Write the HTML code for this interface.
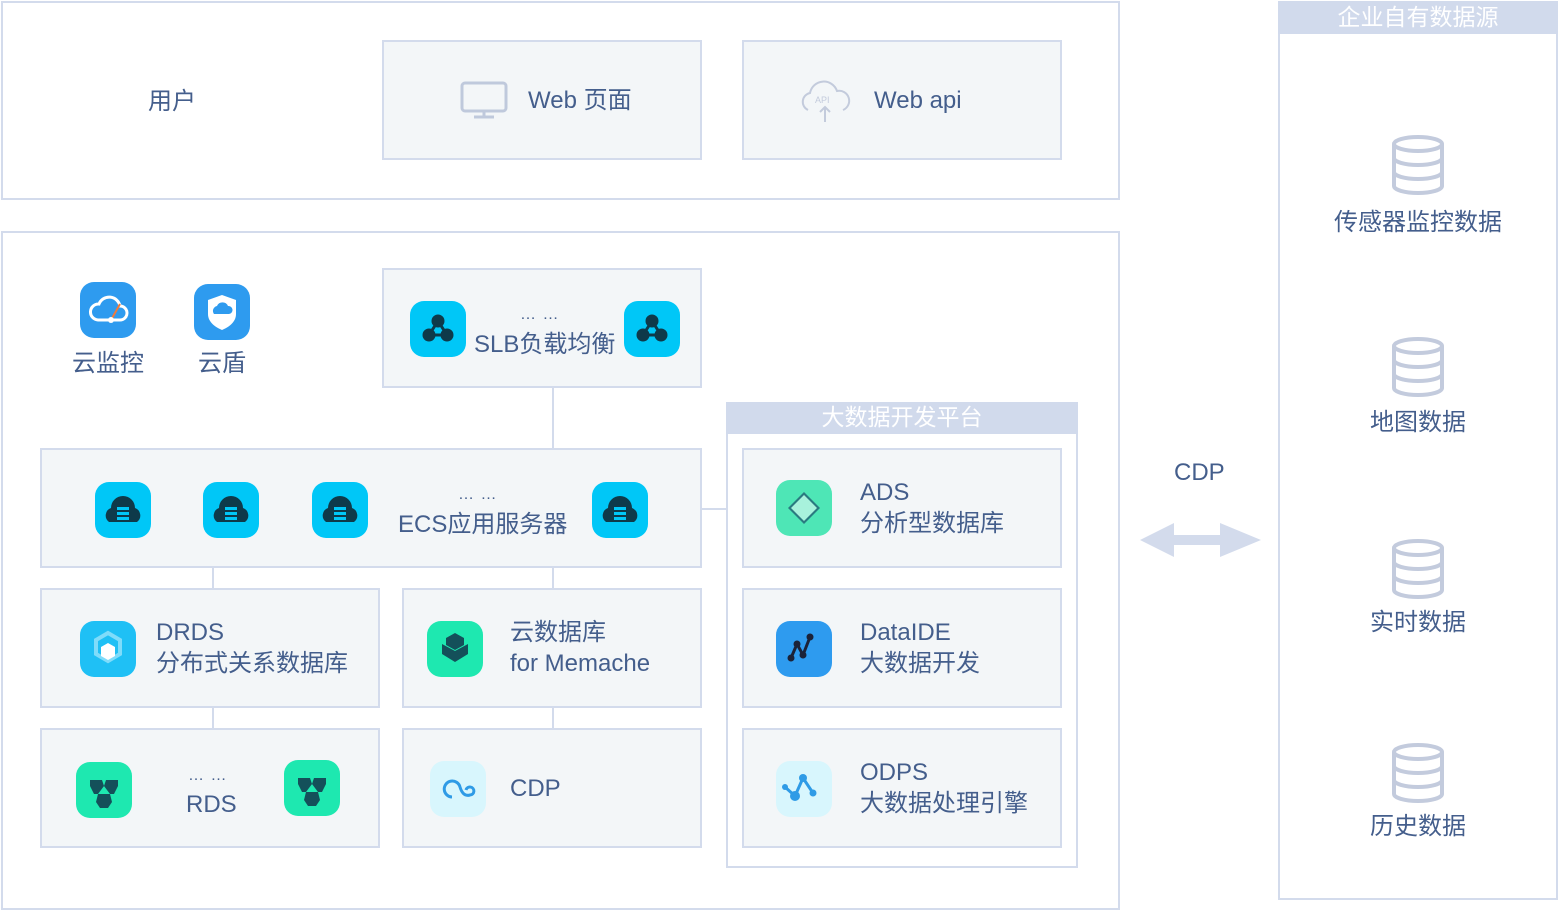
<!DOCTYPE html>
<html><head><meta charset="utf-8"><style>
*{margin:0;padding:0;box-sizing:border-box}
body{width:1558px;height:910px;background:#fff;position:relative;overflow:hidden;font-family:"Liberation Sans","Noto Sans CJK SC",sans-serif;color:#445e8c}
.b{position:absolute;border:2px solid #d3dbec}
.f{background:#f3f6f8}
.t{position:absolute;font-size:24px;line-height:31px;white-space:nowrap}
.l{position:absolute;background:#d3dbec}
.ic{position:absolute;width:56px;height:56px;border-radius:14px}
.hd{position:absolute;background:#d1daec;color:#fff;font-size:23px;text-align:center;line-height:30px}
.dots{position:absolute;font-size:16px;letter-spacing:1px}
</style></head><body>
<div class="b" style="left:1px;top:1px;width:1119px;height:199px"></div>
<div class="t" style="left:148px;top:86px">用户</div>
<div class="b f" style="left:382px;top:40px;width:320px;height:120px"></div>
<svg style="position:absolute;left:460px;top:81px" width="48" height="38"><rect x="2" y="2" width="44" height="28" rx="3" fill="none" stroke="#bfc9dc" stroke-width="3"/><line x1="24" y1="30" x2="24" y2="36" stroke="#bfc9dc" stroke-width="3"/><line x1="14" y1="36" x2="34" y2="36" stroke="#bfc9dc" stroke-width="3"/></svg>
<div class="t" style="left:528px;top:85px">Web 页面</div>
<div class="b f" style="left:742px;top:40px;width:320px;height:120px"></div>
<svg style="position:absolute;left:796px;top:78px" width="58" height="46"><path d="M12 32 a9 9 0 0 1 2-17 a14 14 0 0 1 27-2 a10 10 0 0 1 6 19" fill="none" stroke="#c3cbdc" stroke-width="2"/><text x="19" y="25" font-size="9" fill="#c3cbdc" font-family="Liberation Sans">API</text><path d="M29 44 V29 M24 34 l5-5 5 5" fill="none" stroke="#c3cbdc" stroke-width="2"/></svg>
<div class="t" style="left:874px;top:85px">Web api</div>

<div class="b" style="left:1px;top:231px;width:1119px;height:679px"></div>
<div class="ic" style="left:80px;top:282px;background:#2e9bef"></div>
<svg style="position:absolute;left:80px;top:282px" width="56" height="56"><path d="M18 38 a8 8 0 0 1 1-16 a11 11 0 0 1 21 2 a7 7 0 0 1 0 14 z" fill="none" stroke="#fff" stroke-width="3"/><line x1="31" y1="38" x2="40" y2="22" stroke="#f07a3a" stroke-width="2"/><circle cx="31" cy="38" r="3" fill="#fff"/></svg>
<div class="t" style="left:72px;top:348px">云监控</div>
<div class="ic" style="left:194px;top:284px;background:#2e9bef"></div>
<svg style="position:absolute;left:194px;top:284px" width="56" height="56"><path d="M14 16 L28 11 L42 16 V30 C42 38 35 43 28 46 C21 43 14 38 14 30 Z" fill="#fff"/><path d="M20 30 a5 5 0 0 1 3-8 a6 6 0 0 1 11 0 a4 4 0 0 1 1 8 z" fill="#2e9bef"/></svg>
<div class="t" style="left:198px;top:348px">云盾</div>

<div class="b f" style="left:382px;top:268px;width:320px;height:120px"></div>
<div class="ic" style="left:410px;top:301px;background:#00c7f7"></div>
<div class="ic" style="left:624px;top:301px;background:#00c7f7"></div>
<svg style="position:absolute;left:410px;top:301px" width="56" height="56"><g fill="#0e3a4a" stroke="#0e3a4a" stroke-width="3"><circle cx="28" cy="20" r="5"/><circle cx="19" cy="34" r="5"/><circle cx="37" cy="34" r="5"/><path d="M28 20 L19 34 H37 Z" fill="none"/></g></svg>
<svg style="position:absolute;left:624px;top:301px" width="56" height="56"><g fill="#0e3a4a" stroke="#0e3a4a" stroke-width="3"><circle cx="28" cy="20" r="5"/><circle cx="19" cy="34" r="5"/><circle cx="37" cy="34" r="5"/><path d="M28 20 L19 34 H37 Z" fill="none"/></g></svg>
<div class="dots" style="left:520px;top:306px">… …</div>
<div class="t" style="left:474px;top:329px">SLB负载均衡</div>

<div class="l" style="left:552px;top:388px;width:2px;height:61px"></div>

<div class="b f" style="left:40px;top:448px;width:662px;height:120px"></div>
<div class="l" style="left:702px;top:508px;width:25px;height:2px"></div>
<svg width="0" height="0" style="position:absolute"><defs><g id="ecs"><rect width="56" height="56" rx="14" fill="#00c7f7"/><path d="M14 40 a8 8 0 0 1 2-14 a12 12 0 0 1 24 0 a8 8 0 0 1 2 14 z" fill="#0e3a4a"/><g fill="#00c7f7"><rect x="22" y="25" width="12" height="3"/><rect x="22" y="30" width="12" height="3"/><rect x="22" y="35" width="12" height="3"/></g></g></defs></svg>
<svg style="position:absolute;left:95px;top:482px" width="56" height="56"><use href="#ecs"/></svg>
<svg style="position:absolute;left:203px;top:482px" width="56" height="56"><use href="#ecs"/></svg>
<svg style="position:absolute;left:312px;top:482px" width="56" height="56"><use href="#ecs"/></svg>
<svg style="position:absolute;left:592px;top:482px" width="56" height="56"><use href="#ecs"/></svg>
<div class="dots" style="left:458px;top:486px">… …</div>
<div class="t" style="left:398px;top:509px">ECS应用服务器</div>

<div class="l" style="left:212px;top:568px;width:2px;height:21px"></div>
<div class="l" style="left:552px;top:568px;width:2px;height:21px"></div>

<div class="b f" style="left:40px;top:588px;width:340px;height:120px"></div>
<div class="ic" style="left:80px;top:621px;background:#1fc0f5"></div>
<svg style="position:absolute;left:80px;top:621px" width="56" height="56"><path d="M28 12 l12 7 v14 l-12 7 l-12-7 v-14 z" fill="none" stroke="#7fdcfa" stroke-width="4"/><path d="M28 22 l7 4 v9 l-7 4 l-7-4 v-9 z" fill="#fff"/></svg>
<div class="t" style="left:156px;top:617px">DRDS</div>
<div class="t" style="left:156px;top:648px">分布式关系数据库</div>

<div class="b f" style="left:402px;top:588px;width:300px;height:120px"></div>
<div class="ic" style="left:427px;top:621px;background:#1ee8b0"></div>
<svg style="position:absolute;left:427px;top:621px" width="56" height="56"><path d="M28 12 l9 5 v7 l-9 5 l-9-5 v-7 z" fill="#14505a"/><path d="M28 30 l-13-7 v10 l13 8 l13-8 v-10 z" fill="#14505a"/></svg>
<div class="t" style="left:510px;top:617px">云数据库</div>
<div class="t" style="left:510px;top:648px">for Memache</div>

<div class="l" style="left:212px;top:708px;width:2px;height:21px"></div>
<div class="l" style="left:552px;top:708px;width:2px;height:21px"></div>

<div class="b f" style="left:40px;top:728px;width:340px;height:120px"></div>
<svg width="0" height="0" style="position:absolute"><defs><g id="rds"><rect width="56" height="56" rx="14" fill="#1ee8b0"/><g fill="#14505a"><path d="M14 18 h12 l2 6 l-6 8 h-4 l-4-8z"/><path d="M30 18 h12 v6 l-4 8 h-4 l-6-8z"/><path d="M22 32 h12 l2 8 l-4 6 h-8 l-4-6z"/></g></g></defs></svg>
<svg style="position:absolute;left:76px;top:762px" width="56" height="56"><use href="#rds"/></svg>
<svg style="position:absolute;left:284px;top:760px" width="56" height="56"><use href="#rds"/></svg>
<div class="dots" style="left:188px;top:767px">… …</div>
<div class="t" style="left:186px;top:789px">RDS</div>

<div class="b f" style="left:402px;top:728px;width:300px;height:120px"></div>
<div class="ic" style="left:430px;top:761px;background:#d8f6fd"></div>
<svg style="position:absolute;left:430px;top:761px" width="56" height="56"><path d="M22 36 a8 8 0 1 1 8-10 q3 10 10 8 a4 4 0 1 0 -4-5" fill="none" stroke="#2f9be6" stroke-width="3"/></svg>
<div class="t" style="left:510px;top:773px">CDP</div>

<div class="b" style="left:726px;top:402px;width:352px;height:466px"></div>
<div class="hd" style="left:726px;top:402px;width:352px;height:32px">大数据开发平台</div>
<div class="b f" style="left:742px;top:448px;width:320px;height:120px"></div>
<div class="ic" style="left:776px;top:480px;background:#4ee6b6"></div>
<svg style="position:absolute;left:776px;top:480px" width="56" height="56"><path d="M28 12 l16 16 l-16 16 l-16-16 z" fill="#2a7a80"/><path d="M28 15 l13 13 l-13 13 l-13-13 z" fill="#a8f2dc"/></svg>
<div class="t" style="left:860px;top:477px">ADS</div>
<div class="t" style="left:860px;top:508px">分析型数据库</div>
<div class="b f" style="left:742px;top:588px;width:320px;height:120px"></div>
<div class="ic" style="left:776px;top:621px;background:#2e9bef"></div>
<svg style="position:absolute;left:776px;top:621px" width="56" height="56"><path d="M15 37 L21 23 L27 34 L34 16" fill="none" stroke="#1b2238" stroke-width="3"/><g fill="#1b2238"><circle cx="15" cy="37" r="3.5"/><circle cx="21" cy="23" r="3.5"/><circle cx="27" cy="34" r="3.5"/><circle cx="34" cy="16" r="3.5"/></g></svg>
<div class="t" style="left:860px;top:617px">DataIDE</div>
<div class="t" style="left:860px;top:648px">大数据开发</div>
<div class="b f" style="left:742px;top:728px;width:320px;height:120px"></div>
<div class="ic" style="left:776px;top:761px;background:#d8f6fd"></div>
<svg style="position:absolute;left:776px;top:761px" width="56" height="56"><path d="M9 26 L19 35 L27 17 L37 32" fill="none" stroke="#2f9be6" stroke-width="3"/><g fill="#2f9be6"><circle cx="9" cy="26" r="3"/><circle cx="19" cy="35" r="5"/><circle cx="27" cy="17" r="4"/><circle cx="37" cy="32" r="3.5"/></g></svg>
<div class="t" style="left:860px;top:757px">ODPS</div>
<div class="t" style="left:860px;top:788px">大数据处理引擎</div>

<div class="t" style="left:1174px;top:457px">CDP</div>
<svg style="position:absolute;left:1139px;top:520px" width="124" height="40"><path d="M1 20 L35 3 V15 H81 V3 L122 20 L81 37 V25 H35 V37 Z" fill="#d3dbec"/></svg>

<div class="b" style="left:1278px;top:1px;width:280px;height:899px"></div>
<div class="hd" style="left:1278px;top:1px;width:280px;height:33px;line-height:32px">企业自有数据源</div>
<svg width="0" height="0" style="position:absolute"><defs><g id="db" fill="none" stroke="#c3cbdd" stroke-width="4"><ellipse cx="28" cy="10" rx="24" ry="7"/><path d="M4 10 V52 a24 7 0 0 0 48 0 V10"/><path d="M4 24 a24 7 0 0 0 48 0 M4 38 a24 7 0 0 0 48 0"/></g></defs></svg>
<svg style="position:absolute;left:1390px;top:134px" width="56" height="64"><use href="#db"/></svg>
<div class="t" style="left:1334px;top:207px">传感器监控数据</div>
<svg style="position:absolute;left:1390px;top:336px" width="56" height="64"><use href="#db"/></svg>
<div class="t" style="left:1370px;top:407px">地图数据</div>
<svg style="position:absolute;left:1390px;top:538px" width="56" height="64"><use href="#db"/></svg>
<div class="t" style="left:1370px;top:607px">实时数据</div>
<svg style="position:absolute;left:1390px;top:742px" width="56" height="64"><use href="#db"/></svg>
<div class="t" style="left:1370px;top:811px">历史数据</div>
</body></html>
